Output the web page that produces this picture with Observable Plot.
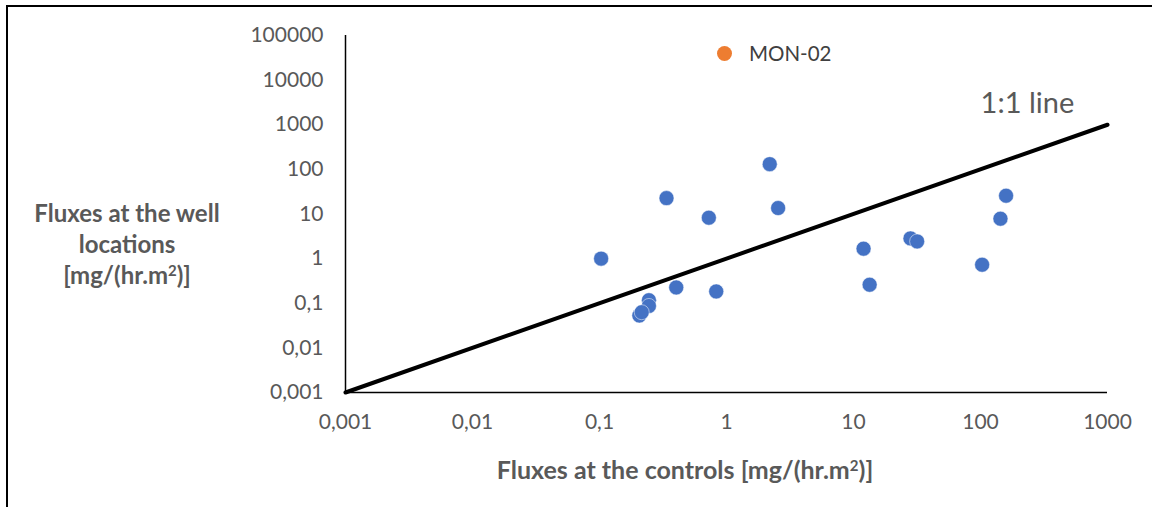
<!DOCTYPE html>
<html><head><meta charset="utf-8">
<script src="https://cdn.jsdelivr.net/npm/d3@7"></script>
<script src="https://cdn.jsdelivr.net/npm/@observablehq/plot@0.6"></script>
<style>
body{margin:0;background:#fff;font-family:Lato,"Open Sans",sans-serif;}
#wrap{position:relative;width:1152px;height:507px;overflow:hidden;}
#frame{position:absolute;left:6px;top:5px;width:1200px;height:600px;border-left:2px solid #000;border-top:2px solid #000;pointer-events:none;}
#chart{position:absolute;left:0;top:0;}
.ytitle{position:absolute;left:7px;width:240px;top:197px;text-align:center;font-weight:bold;font-size:24px;line-height:31px;color:#595959;}
.ytitle sup,.xtitle sup{font-size:15px;vertical-align:8px;line-height:0;}
.xtitle{position:absolute;left:385px;width:600px;top:454px;line-height:30px;text-align:center;font-weight:bold;font-size:25px;color:#595959;}
.legend{position:absolute;left:717px;top:40px;height:26px;font-size:20.5px;color:#404040;display:flex;align-items:center;}
.legend span.sw{display:inline-block;width:15px;height:15px;border-radius:50%;margin-right:17px;}
</style></head><body>
<div id="wrap"><div id="chart"></div><div id="frame"></div></div>
<script>
const seriesName = "MON-02";
const xTitle = "Fluxes at the controls [mg/(hr.m<sup>2</sup>)]";
const yTitleLines = ["Fluxes at the well", "locations", "[mg/(hr.m<sup>2</sup>)]"];
const lineLabel = "1:1 line";
const controlFlux = [0.103, 0.337, 0.726, 2.19, 2.55, 0.402, 0.83, 0.245, 0.245, 0.206, 0.215, 159, 143.6, 28.1, 31.7, 12.0, 13.4, 103];
const wellFlux    = [1.0, 22.7, 8.26, 131, 13.6, 0.226, 0.184, 0.117, 0.087, 0.053, 0.063, 25.7, 7.84, 2.84, 2.43, 1.67, 0.26, 0.73];
const xTicks = [0.001, 0.01, 0.1, 1, 10, 100, 1000];
const yTicks = [0.001, 0.01, 0.1, 1, 10, 100, 1000, 10000, 100000];
const oneToOne = [0.001, 1000];
const labelPos = [{x: 234, y: 3000}];

const pts = controlFlux.map((x, i) => ({x, y: wellFlux[i]}));
const linePts = oneToOne.map(v => ({x: v, y: v}));
const fmt = d => String(d).replace(".", ",");

const chart = Plot.plot({
  width: 1152, height: 507,
  marginLeft: 345, marginRight: 45, marginTop: 35, marginBottom: 115,
  style: {fontFamily: "Lato, 'Open Sans', sans-serif", fontSize: "21px", color: "#595959", background: "transparent"},
  x: {type: "log", domain: [0.001, 1000], ticks: xTicks, tickFormat: fmt, tickSize: 0, tickPadding: 22, label: null},
  y: {type: "log", domain: [0.001, 100000], ticks: yTicks, tickFormat: fmt, tickSize: 0, tickPadding: 22, label: null},
  marks: [
    Plot.ruleX([0.001], {y1: 0.001, y2: 100000, stroke: "#000", strokeWidth: 1.5}),
    Plot.ruleY([0.001], {x1: 0.001, x2: 1000, stroke: "#000", strokeWidth: 1.5}),
    Plot.line(linePts, {x: "x", y: "y", stroke: "#000", strokeWidth: 4}),
    Plot.dot(pts, {x: "x", y: "y", r: 7.5, fill: "#4472C4", stroke: "#fff", strokeWidth: 0.5}),
    Plot.text(labelPos, {x: "x", y: "y", text: () => lineLabel, fontSize: 29, fill: "#595959"})
  ]
});
document.getElementById("chart").appendChild(chart);

const wrap = document.getElementById("wrap");
const yt = document.createElement("div"); yt.className = "ytitle"; yt.innerHTML = yTitleLines.join("<br>"); wrap.appendChild(yt);
const xt = document.createElement("div"); xt.className = "xtitle"; xt.innerHTML = xTitle; wrap.appendChild(xt);
const lg = document.createElement("div"); lg.className = "legend";
lg.innerHTML = `<span class="sw" style="background:#ED7D31"></span>${seriesName}`;
wrap.appendChild(lg);
</script>
</body></html>
